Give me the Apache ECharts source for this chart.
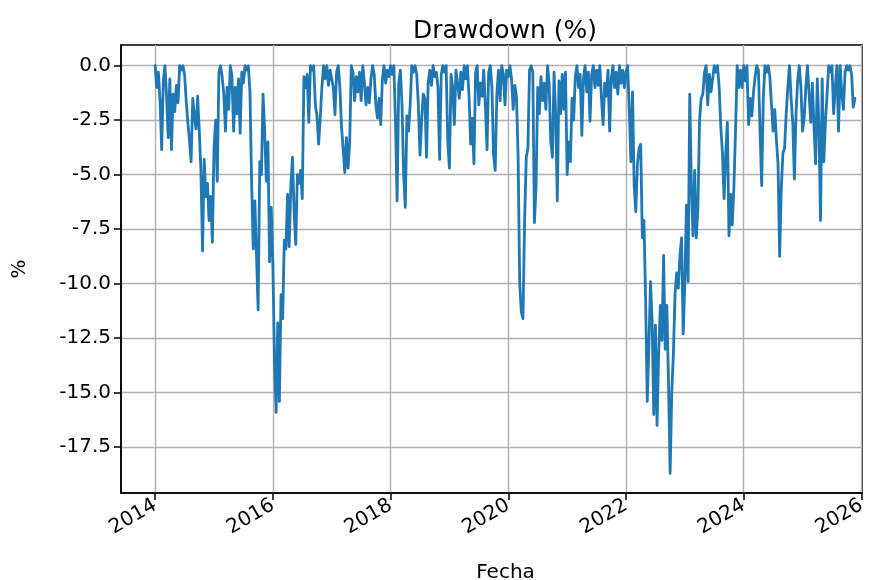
<!DOCTYPE html>
<html>
<head>
<meta charset="utf-8">
<script src="https://cdn.jsdelivr.net/npm/echarts@6/dist/echarts.min.js"></script>
<style>
  html, body { margin: 0; padding: 0; background: #ffffff; }
  #chart { width: 878px; height: 580px; }
</style>
</head>
<body>
<div id="chart"></div>
<script>
// Labels and ticks
const chartTitle = 'Drawdown (%)';
const xAxisName = 'Fecha';
const yAxisName = '%';
const xTickYears = [2014, 2016, 2018, 2020, 2022, 2024, 2026];
const yTickValues = [-17.5, -15, -12.5, -10, -7.5, -5, -2.5, 0];

// Drawdown values (%), 36 samples per calendar year starting on 1 January
const samplesPerYear = 36;
const dd2014 = [0, -1.0, -0.3, -1.6, -3.85, -0.7, 0, -1.4, -3.3, -0.6, -3.85, -1.3, -2.1, -0.9, -1.7, 0, -0.2, 0,
  -0.4, -1.6, -2.6, -3.4, -4.4, -1.5, -2.3, -2.9, -1.4, -3.0, -4.8, -8.5, -4.3, -6.0, -5.4, -7.1, -6.0, -8.1];
const dd2015 = [-3.8, -2.5, -5.3, -0.3, 0, -0.5, -1.3, -3.0, -1.0, -2.0, 0, -0.5, -3.0, -1.0, -2.2, -0.6, -3.1, -0.3,
  -0.8, 0, -0.2, 0, -1.2, -5.3, -8.4, -6.2, -8.7, -11.2, -4.4, -5.0, -1.3, -3.0, -5.3, -3.5, -9.0, -6.5];
const dd2016 = [-9.1, -13.5, -15.9, -11.8, -15.4, -10.5, -11.6, -8.0, -8.4, -5.9, -8.3, -5.5, -4.2, -6.7, -8.2, -5.0, -5.4, -4.8,
  -6.1, -0.5, -1.0, -0.4, -2.6, 0, -0.2, 0, -1.8, -2.3, -3.6, -2.4, -1.0, 0, -0.6, 0, -0.9, -0.2];
const dd2017 = [-0.6, -1.0, -2.25, -0.3, 0, -1.0, -2.8, -3.8, -4.9, -3.3, -4.7, -3.5, 0, -0.3, -1.6, -0.5, -1.2, -0.3,
  -1.6, 0, -0.8, -1.8, -1.0, -1.7, -0.6, 0, -0.4, -1.8, -2.4, -1.5, -2.7, -0.6, 0, -0.8, -0.2, -0.5];
const dd2018 = [0, -0.4, 0, -2.5, -6.2, -0.8, -0.2, -1.8, -5.0, -6.5, -2.3, -3.0, -1.8, 0, -0.3, 0, -0.4, -1.8,
  -4.1, -2.5, -1.3, -1.5, -4.2, -0.8, -0.2, -0.9, 0, -0.5, -0.3, -1.0, -4.3, -0.4, 0, -0.3, 0, -3.5];
const dd2019 = [-4.7, -0.4, -1.0, -2.7, -0.2, -0.8, -1.5, -0.3, -1.1, 0, -0.6, 0, -1.4, -3.6, -2.4, -4.5, -0.3, 0,
  -1.8, -0.8, -1.4, -0.2, -1.9, -3.85, -0.3, 0, -1.0, -4.1, -4.8, -1.3, -0.2, -1.6, 0, -0.4, -1.8, -0.2];
const dd2020 = [-0.5, 0, -0.6, -2.0, -0.9, -1.4, -4.1, -10.0, -11.3, -11.6, -7.1, -4.2, -3.8, -0.2, 0, -0.3, -7.2, -5.5,
  -1.0, -2.2, -0.5, -1.6, -0.8, -2.0, 0, -0.8, -3.5, -4.2, -0.3, -2.3, -6.2, -0.7, -2.2, -0.4, -2.0, -0.3];
const dd2021 = [-5.0, -3.5, -4.4, -1.5, -2.5, -0.5, 0, -1.0, -0.4, -3.2, -0.6, 0, -1.2, -0.3, -2.55, -0.4, 0, -1.0,
  -0.2, -0.9, 0, -1.5, -2.7, -0.8, -1.4, -0.2, -3.0, -0.6, 0, -1.0, -0.3, -1.3, 0, -0.8, -0.2, -1.0];
const dd2022 = [-0.3, 0, -2.0, -4.4, -1.2, -5.5, -6.7, -4.5, -3.8, -3.6, -7.9, -7.1, -10.7, -15.4, -12.9, -9.9, -11.7, -16.0,
  -11.9, -16.5, -13.2, -11.0, -12.6, -8.7, -13.0, -11.0, -14.5, -18.7, -15.0, -13.2, -10.5, -9.5, -10.2, -8.7, -7.9, -12.3];
const dd2023 = [-9.9, -6.4, -9.9, -1.3, -5.5, -7.8, -4.8, -7.9, -6.5, -2.5, -1.5, -1.3, -0.3, 0, -1.8, -0.4, -1.2, -0.6,
  0, -0.3, 0, -1.0, -2.8, -4.0, -6.1, -4.0, -2.6, -7.8, -5.9, -7.3, -5.6, -3.0, 0, -1.0, -0.2, -1.0];
const dd2024 = [0, -0.7, 0, -2.7, -1.5, -2.3, -1.2, -0.5, 0, -0.2, -3.0, -5.5, -1.5, 0, -0.3, 0, -0.5, -1.8,
  -3.0, -2.0, -3.4, -4.5, -8.75, -5.6, -4.0, -3.8, -2.2, -1.0, 0, -1.5, -2.6, -5.2, -2.2, -0.7, 0, -1.0];
const dd2025 = [-3.0, -2.4, -1.0, 0, -1.3, -2.6, -0.8, -2.8, -4.5, -0.6, -2.8, -7.1, -0.6, -4.4, -2.6, -1.3, 0, -0.3,
  0, -2.2, -1.0, 0, -3.0, 0, -1.3, -2.0, -0.3, 0, -0.2, 0, -0.4, -1.9, -1.5];

const yearStarts = [2014, 2015, 2016, 2017, 2018, 2019, 2020, 2021, 2022, 2023, 2024, 2025];
const yearBlocks = [dd2014, dd2015, dd2016, dd2017, dd2018, dd2019, dd2020, dd2021, dd2022, dd2023, dd2024, dd2025];

const seriesData = [];
yearBlocks.forEach(function (vals, k) {
  vals.forEach(function (v, i) {
    seriesData.push([yearStarts[k] + i / samplesPerYear, v]);
  });
});

const fontFamily = 'DejaVu Sans';

const chart = echarts.init(document.getElementById('chart'), null, { renderer: 'canvas' });
chart.setOption({
  animation: false,
  backgroundColor: '#ffffff',
  title: {
    text: chartTitle,
    left: 500,
    top: 14,
    textAlign: 'center',
    textStyle: { fontFamily: fontFamily, fontSize: 25, fontWeight: 'normal', color: '#000' }
  },
  grid: {
    left: 121, top: 45, right: 16, bottom: 87,
    outerBoundsMode: 'none',
    show: true, borderColor: '#000', borderWidth: 1.5, backgroundColor: 'transparent',
    containLabel: false
  },
  xAxis: {
    type: 'value',
    min: 2013.42,
    max: 2026.01,
    name: xAxisName,
    nameLocation: 'middle',
    nameGap: 70,
    nameTextStyle: { fontFamily: fontFamily, fontSize: 20, color: '#000', padding: [0, 0, 0, 28] },
    axisLine: { show: true, onZero: false, lineStyle: { color: '#000', width: 1.5 } },
    axisTick: { show: true, length: 7, lineStyle: { color: '#000', width: 1.5 }, customValues: xTickYears },
    axisLabel: {
      show: true,
      customValues: xTickYears,
      rotate: 30,
      margin: 11,
      fontFamily: fontFamily,
      fontSize: 20,
      color: '#000',
      formatter: function (v) { return String(Math.round(v)); }
    },
    splitLine: { show: true, lineStyle: { color: '#b0b0b0', width: 1.4 } }
  },
  yAxis: {
    type: 'value',
    min: -19.6,
    max: 0.95,
    name: yAxisName,
    nameLocation: 'middle',
    nameRotate: 90,
    nameGap: 91,
    nameTextStyle: { fontFamily: fontFamily, fontSize: 20, color: '#000' },
    axisLine: { show: true, onZero: false, lineStyle: { color: '#000', width: 1.5 } },
    axisTick: { show: true, length: 7, lineStyle: { color: '#000', width: 1.5 }, customValues: yTickValues },
    axisLabel: {
      show: true,
      customValues: yTickValues,
      margin: 10,
      fontFamily: fontFamily,
      fontSize: 20,
      color: '#000',
      formatter: function (v) { return v.toFixed(1); }
    },
    splitLine: { show: true, lineStyle: { color: '#b0b0b0', width: 1.4 } }
  },
  series: [{
    type: 'line',
    data: seriesData,
    showSymbol: false,
    symbol: 'none',
    smooth: false,
    lineStyle: { color: '#1f77b4', width: 2.8, join: 'round', cap: 'round' },
    itemStyle: { color: '#1f77b4' }
  }]
});
</script>
</body>
</html>
